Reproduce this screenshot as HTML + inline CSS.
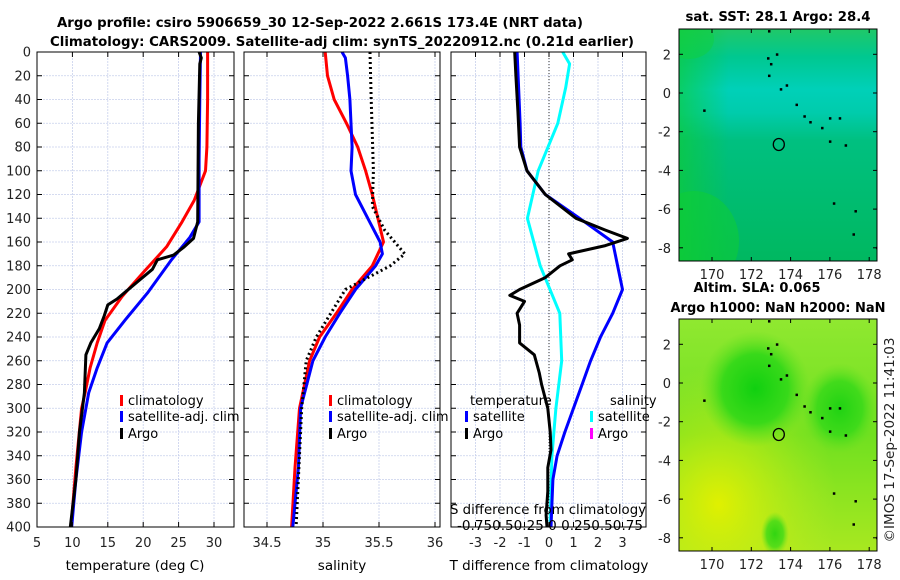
<!DOCTYPE html>
<html><head><meta charset="utf-8">
<style>
body{margin:0;background:#fff;}
svg{display:block;font-family:"DejaVu Sans","Liberation Sans",sans-serif;}
</style></head>
<body>
<svg id="fig" width="900" height="580" viewBox="0 0 900 580">
<defs>
<linearGradient id="sstV" x1="0" y1="0" x2="0" y2="1">
<stop offset="0" stop-color="#20c868"/><stop offset="0.12" stop-color="#00c890"/><stop offset="0.26" stop-color="#00d0b8"/><stop offset="0.36" stop-color="#00ccac"/><stop offset="0.48" stop-color="#00c080"/><stop offset="1" stop-color="#00b860"/>
</linearGradient>
<linearGradient id="sstL" x1="0" y1="0" x2="1" y2="0">
<stop offset="0" stop-color="#10cc30" stop-opacity="0.6"/><stop offset="0.25" stop-color="#10cc30" stop-opacity="0"/>
</linearGradient>
<linearGradient id="slaBase" x1="0" y1="0" x2="0" y2="1">
<stop offset="0" stop-color="#90e830"/><stop offset="0.5" stop-color="#70e020"/><stop offset="1" stop-color="#a8e820"/>
</linearGradient>
<radialGradient id="slaBlob" cx="0.5" cy="0.5" r="0.5">
<stop offset="0" stop-color="#10d010"/><stop offset="0.6" stop-color="#30d818" stop-opacity="0.9"/><stop offset="1" stop-color="#60e020" stop-opacity="0"/>
</radialGradient>
<radialGradient id="slaYel" cx="0.2" cy="0.8" r="0.6">
<stop offset="0" stop-color="#e0f000"/><stop offset="1" stop-color="#c0ec20" stop-opacity="0"/>
</radialGradient>
</defs>

<text x="320" y="27" text-anchor="middle" font-weight="bold" font-size="13.5" textLength="526" lengthAdjust="spacingAndGlyphs">Argo profile: csiro 5906659_30 12-Sep-2022 2.661S 173.4E (NRT data)</text>
<text x="342" y="46" text-anchor="middle" font-weight="bold" font-size="13.5" textLength="584" lengthAdjust="spacingAndGlyphs">Climatology: CARS2009. Satellite-adj clim: synTS_20220912.nc (0.21d earlier)</text>

<g id="p1"></g>
<g id="p2"></g>
<g id="p3"></g>
<g id="maps"></g>

<text transform="translate(894,440) rotate(-90)" text-anchor="middle" font-size="13" fill="#222" textLength="205" lengthAdjust="spacingAndGlyphs">©IMOS 17-Sep-2022 11:41:03</text>
</svg>
<script>
// ---------- data ----------
const depthTicks=[0,20,40,60,80,100,120,140,160,180,200,220,240,260,280,300,320,340,360,380,400];
const tTicks=[5,10,15,20,25,30];
const sTicks=[34.5,35,35.5,36];
const dTTicks=[-3,-2,-1,0,1,2,3];
const dSTicks=[-0.75,-0.5,-0.25,0,0.25,0.5,0.75];

const climTDepth=[0,40,80,100,125,143,164,185,206,226,245,266,287,300,350,400];
const climT=[29.1,29.1,29.0,28.8,27.2,25.5,23.3,20.1,17.0,14.6,13.5,12.5,11.8,11.3,10.5,9.8];
const satTDepth=[0,40,90,143,156,175,203,226,245,266,287,320,360,400];
const satT=[28.1,28.0,27.9,27.9,26.6,24.0,20.6,17.4,14.9,13.5,12.3,11.3,10.5,9.9];
const argoTDepth=[0,5,10,60,143,157,164,171,175,183,194,201,208,213,222,233,245,255,287,320,360,400];
const argoT=[27.9,28.2,28.0,27.8,27.7,27.1,25.8,24.3,22.0,21.3,19.1,17.7,16.3,15.0,14.5,13.8,12.6,11.9,11.7,11.0,10.5,9.7];

const climSDepth=[0,20,40,60,80,100,120,140,160,180,200,220,240,260,300,350,400];
const climS=[35.02,35.04,35.1,35.21,35.31,35.38,35.44,35.49,35.54,35.44,35.26,35.12,34.97,34.88,34.79,34.75,34.72];
const satSDepth=[0,5,20,40,80,100,120,140,160,170,180,200,220,240,260,300,350,400];
const satS=[35.17,35.2,35.22,35.24,35.26,35.25,35.29,35.4,35.51,35.53,35.47,35.29,35.15,35.02,34.91,34.8,34.78,34.73];
const argoSDepth=[0,40,100,130,150,160,170,180,200,220,240,260,300,400];
const argoS=[35.42,35.43,35.45,35.44,35.55,35.64,35.73,35.6,35.2,35.07,34.94,34.85,34.81,34.76];

const dTsatDepth=[0,20,60,80,100,120,140,160,180,200,220,240,260,280,300,320,340,360,400];
const dTsat=[-1.3,-1.26,-1.18,-1.15,-0.9,-0.15,1.25,2.6,2.8,3.0,2.6,2.1,1.7,1.35,1.0,0.65,0.33,0.16,0.08];
const dTargoDepth=[0,20,50,80,100,120,140,150,157,163,170,175,180,190,200,205,210,220,230,245,255,270,280,300,320,335,350,370,390,400];
const dTargo=[-1.4,-1.35,-1.27,-1.2,-0.9,-0.15,1.1,2.3,3.2,2.3,0.8,0.95,0.45,-0.15,-1.2,-1.6,-1.0,-1.3,-1.2,-1.2,-0.6,-0.4,-0.3,-0.05,0.05,0.08,-0.05,-0.05,-0.12,-0.08];
const dSsatDepth=[0,10,30,60,100,140,180,220,260,300,340,400];
const dSsat=[0.14,0.21,0.17,0.09,-0.11,-0.22,-0.09,0.11,0.13,0.07,0.03,0.01];

const lonTicks=[170,172,174,176,178];
const latTicks=[2,0,-2,-4,-6,-8];
const sstValue="28.1", argoSST="28.4", slaValue="0.065";
const argoLon=173.4, argoLat=-2.661;

// ---------- helpers ----------
const NS="http://www.w3.org/2000/svg";
function mk(parent,tag,attrs){const e=document.createElementNS(NS,tag);for(const k in attrs)e.setAttribute(k,attrs[k]);parent.appendChild(e);return e;}
const Y0=52,Y1=527;
const yD=d=>Y0+(d/400)*(Y1-Y0);

function grid(g,x0,x1,xs,xticks){
  depthTicks.forEach(d=>{const l=mk(g,'line',{x1:x0,x2:x1,y1:yD(d),y2:yD(d),stroke:'#c8d0ec','stroke-width':0.8,'stroke-dasharray':'2,1'});
    });
  xticks.forEach(v=>{const l=mk(g,'line',{x1:xs(v),x2:xs(v),y1:Y0,y2:Y1,stroke:'#c8d0ec','stroke-width':0.8,'stroke-dasharray':'2,1'});
    });
}
function frame(g,x0,x1,xs,xticks,xlabels,showY){
  const r=mk(g,'rect',{x:x0,y:Y0,width:x1-x0,height:Y1-Y0,fill:'none',stroke:'#000','stroke-width':1});
  
  depthTicks.forEach(d=>{
    mk(g,'line',{x1:x0,x2:x0+5,y1:yD(d),y2:yD(d),stroke:'#000'});
    mk(g,'line',{x1:x1-5,x2:x1,y1:yD(d),y2:yD(d),stroke:'#000'});
    if(showY){const t=mk(g,'text',{x:x0-6,y:yD(d)+4.5,'text-anchor':'end','font-size':13,fill:'#222'});t.textContent=d;
      }
  });
  xticks.forEach((v,i)=>{
    mk(g,'line',{x1:xs(v),x2:xs(v),y1:Y1,y2:Y1-5,stroke:'#000'});
    mk(g,'line',{x1:xs(v),x2:xs(v),y1:Y0,y2:Y0+5,stroke:'#000'});
    const t=mk(g,'text',{x:xs(v),y:Y1+20,'text-anchor':'middle','font-size':13,fill:'#222'});t.textContent=xlabels[i];
    
  });
}
function line(g,xs,vals,depths,color,name,extra){
  const d=vals.map((v,i)=>(i?'L':'M')+xs(v).toFixed(1)+','+yD(depths[i]).toFixed(1)).join('');
  const p=mk(g,'path',Object.assign({d:d,fill:'none',stroke:color,'stroke-width':3,'stroke-linejoin':'round'},extra||{}));
  
  
  return p;
}
function legendItem(g,x,y,color,label,name){
  mk(g,'rect',{x:x,y:y-10,width:3,height:11,fill:color});
  const t=mk(g,'text',{x:x+8,y:y,'font-size':13,fill:'#000'});t.textContent=label;
  
}
function txt(g,x,y,s,attrs,name){const t=mk(g,'text',Object.assign({x:x,y:y,'font-size':13,fill:'#000'},attrs||{}));t.textContent=s;
  return t;}

// ---------- panel 1 ----------
const p1=document.getElementById('p1');
const xs1=v=>37+(v-5)/25*(214-37);
grid(p1,37,234,xs1,tTicks);
line(p1,xs1,climT,climTDepth,'#f00','climatology-temp-line');
line(p1,xs1,satT,satTDepth,'#00f','satellite-temp-line');
line(p1,xs1,argoT,argoTDepth,'#000','argo-temp-line');
frame(p1,37,234,xs1,tTicks,tTicks.map(String),true);
txt(p1,135,570,'temperature (deg C)',{'text-anchor':'middle','font-size':13.5},'x-axis-title-temperature');
legendItem(p1,120,405,'#f00','climatology','legend-climatology');
legendItem(p1,120,421,'#00f','satellite-adj. clim','legend-satellite');
legendItem(p1,120,438,'#000','Argo','legend-argo');

// ---------- panel 2 ----------
const p2=document.getElementById('p2');
const xs2=v=>267+(v-34.5)*112;
grid(p2,244,440,xs2,sTicks);
line(p2,xs2,climS,climSDepth,'#f00','climatology-salinity-line');
line(p2,xs2,satS,satSDepth,'#00f','satellite-salinity-line');
line(p2,xs2,argoS,argoSDepth,'#000','argo-salinity-line',{'stroke-dasharray':'2,3','stroke-linecap':'butt'});
frame(p2,244,440,xs2,sTicks,["34.5","35","35.5","36"],false);
txt(p2,342,570,'salinity',{'text-anchor':'middle','font-size':13.5},'x-axis-title-salinity');
legendItem(p2,329,405,'#f00','climatology','legend-climatology-s');
legendItem(p2,329,421,'#00f','satellite-adj. clim','legend-satellite-s');
legendItem(p2,329,438,'#000','Argo','legend-argo-s');

// ---------- panel 3 ----------
const p3=document.getElementById('p3');
const xs3=v=>549+v*24.5;
const xs3s=v=>549+v*98;
grid(p3,451,646,xs3,dTTicks);
mk(p3,'line',{x1:549,x2:549,y1:Y0,y2:Y1,stroke:'#333','stroke-width':1,'stroke-dasharray':'1,2'});
line(p3,xs3s,dSsat,dSsatDepth,'#0ff','salinity-satellite-diff-line');
line(p3,xs3,dTsat,dTsatDepth,'#00f','temperature-satellite-diff-line');
line(p3,xs3,dTargo,dTargoDepth,'#000','temperature-argo-diff-line');
frame(p3,451,646,xs3,dTTicks,dTTicks.map(String),false);
dSTicks.forEach(v=>{mk(p3,'line',{x1:xs3s(v),x2:xs3s(v),y1:Y1,y2:Y1-5,stroke:'#000'});});
txt(p3,549,570,'T difference from climatology',{'text-anchor':'middle','font-size':13.5},'x-axis-title-t-diff');
txt(p3,548,514,'S difference from climatology',{'text-anchor':'middle','font-size':13.5,textLength:196,lengthAdjust:'spacingAndGlyphs'},'s-axis-title');
txt(p3,550,530,'-0.750.50.25 0  0.250.50.75',{'text-anchor':'middle','font-size':13.5,textLength:186,lengthAdjust:'spacingAndGlyphs'},'s-axis-tick-labels');
txt(p3,470,405,'temperature',{},'legend-temperature-heading');
txt(p3,610,405,'salinity',{},'legend-salinity-heading');
legendItem(p3,465,421,'#00f','satellite','legend-t-satellite');
legendItem(p3,465,438,'#000','Argo','legend-t-argo');
legendItem(p3,590,421,'#0ff','satellite','legend-s-satellite');
legendItem(p3,590,438,'#f0f','Argo','legend-s-argo');

// ---------- maps ----------
const mg=document.getElementById('maps');
const MX0=679,MX1=877;
const lonX=l=>712+(l-170)*19.65;
function drawMap(top,bottom,lat0y,title1,title2,kind,t1len,t1x,t2len){
  const latY=l=>lat0y-l*19.35;
  const g=mk(mg,'g',{});
  
  
  const cp=mk(g,'clipPath',{id:'clip'+kind});
  mk(cp,'rect',{x:MX0,y:top,width:MX1-MX0,height:bottom-top});
  const inner=mk(g,'g',{'clip-path':'url(#clip'+kind+')'});
  if(kind==='sst'){
    mk(inner,'rect',{x:MX0,y:top,width:MX1-MX0,height:bottom-top,fill:'url(#sstV)'});
    mk(inner,'rect',{x:MX0,y:top,width:MX1-MX0,height:bottom-top,fill:'url(#sstL)'});
    mk(inner,'ellipse',{cx:MX0+15,cy:bottom-20,rx:45,ry:50,fill:'#10d030',opacity:0.5});
    mk(inner,'ellipse',{cx:MX0+10,cy:top+10,rx:25,ry:20,fill:'#10d040',opacity:0.5});
  }else{
    mk(inner,'rect',{x:MX0,y:top,width:MX1-MX0,height:bottom-top,fill:'url(#slaBase)'});
    mk(inner,'rect',{x:MX0,y:top,width:MX1-MX0,height:bottom-top,fill:'url(#slaYel)'});
    mk(inner,'ellipse',{cx:lonX(172.2),cy:latY(-0.3),rx:55,ry:58,fill:'url(#slaBlob)'});
    mk(inner,'ellipse',{cx:lonX(176.5),cy:latY(-1.3),rx:38,ry:45,fill:'url(#slaBlob)',opacity:0.85});
    mk(inner,'ellipse',{cx:lonX(173.2),cy:latY(-7.8),rx:14,ry:22,fill:'url(#slaBlob)',opacity:0.8});
  }
  [[172.9,3.2],[172.85,1.8],[173.0,1.5],[173.3,2.0],[172.9,0.9],[173.5,0.2],[173.8,0.4],[174.3,-0.6],[174.7,-1.2],[175.0,-1.5],[175.6,-1.8],[176.0,-1.3],[176.5,-1.3],[176.0,-2.5],[176.8,-2.7],[169.6,-0.9],[176.2,-5.7],[177.3,-6.1],[177.2,-7.3],[178.4,-8.0]]
    .forEach(p=>mk(inner,'rect',{x:lonX(p[0])-1,y:latY(p[1])-1,width:2.5,height:2.5,fill:'#000'}));
  const c=mk(g,'ellipse',{cx:lonX(argoLon),cy:latY(argoLat),rx:5.5,ry:6,fill:'none',stroke:'#000','stroke-width':1.3});
  
  mk(g,'rect',{x:MX0,y:top,width:MX1-MX0,height:bottom-top,fill:'none',stroke:'#000'});
  latTicks.forEach(l=>{mk(g,'line',{x1:MX0,x2:MX0+4,y1:latY(l),y2:latY(l),stroke:'#000'});mk(g,'line',{x1:MX1-4,x2:MX1,y1:latY(l),y2:latY(l),stroke:'#000'});
    txt(g,MX0-8,latY(l)+5,String(l),{'text-anchor':'end',fill:'#222'},'lat-tick-label');});
  lonTicks.forEach(l=>{mk(g,'line',{x1:lonX(l),x2:lonX(l),y1:bottom,y2:bottom-4,stroke:'#000'});mk(g,'line',{x1:lonX(l),x2:lonX(l),y1:top,y2:top+4,stroke:'#000'});
    txt(g,lonX(l),bottom+18,String(l),{'text-anchor':'middle',fill:'#222'},'lon-tick-label');});
  txt(g,t1x,title2?top-27:top-8,title1,{'text-anchor':'middle','font-weight':'bold','font-size':13.5,textLength:t1len,lengthAdjust:'spacingAndGlyphs'},kind+'-map-title');
  if(title2)txt(g,778,top-7,title2,{'text-anchor':'middle','font-weight':'bold','font-size':13.5,textLength:t2len,lengthAdjust:'spacingAndGlyphs'},kind+'-map-subtitle');
}
drawMap(29,261,93,'sat. SST: '+sstValue+' Argo: '+argoSST,null,'sst',185,778);
drawMap(319,551,383,'Altim. SLA: '+slaValue,'Argo h1000: NaN h2000: NaN','sla',127,757,215);
</script>
</body></html>
